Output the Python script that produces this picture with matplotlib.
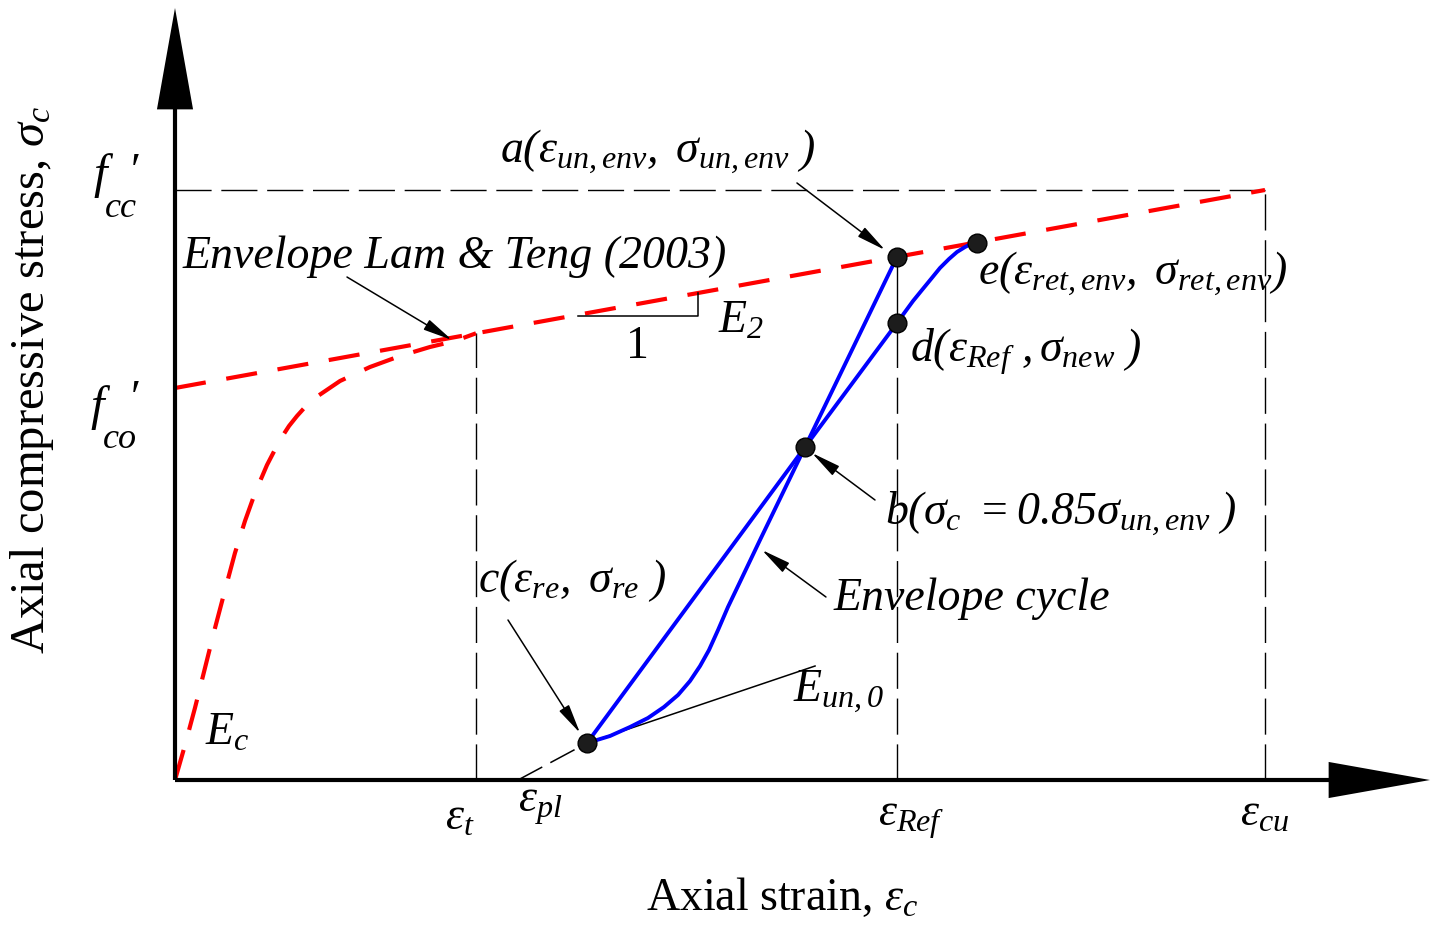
import numpy as np
import matplotlib
matplotlib.use("Agg")
import matplotlib.pyplot as plt

plt.rcParams['font.family'] = ['Liberation Serif', 'DejaVu Serif']
plt.rcParams['mathtext.fontset'] = 'custom'
plt.rcParams['mathtext.rm'] = 'Liberation Serif:italic'
plt.rcParams['mathtext.it'] = 'Liberation Serif:italic'
plt.rcParams['mathtext.bf'] = 'Liberation Serif:bold'

# key strains / stresses (normalised: eps_cu = 1, f'cc = 1)
eps_t = 0.2761
eps_pl = 0.3147
eps_ref = 0.6624
eps_cu = 1.0
f_co = 0.6644
f_cc = 1.0

# Lam & Teng envelope, first (curved) branch
env_eps = [0, 0.0092, 0.0183, 0.0275, 0.0367, 0.0459, 0.0550, 0.0642, 0.0734,
           0.0844, 0.0963, 0.1046, 0.1119, 0.1202, 0.1284, 0.1514, 0.1789,
           0.2064, 0.2339, 0.2569, 0.2761]
env_sig = [0, 0.0593, 0.1220, 0.1898, 0.2576, 0.3220, 0.3847, 0.4390, 0.4864,
           0.5339, 0.5763, 0.6000, 0.6169, 0.6339, 0.6475, 0.6763, 0.7000,
           0.7186, 0.7339, 0.7441, 0.7571]
# second (linear) branch
lin_eps = [0.0, 1.0]
lin_sig = [f_co, f_cc]

# characteristic points
pt_a = (0.6624, 0.8867)
pt_b = (0.5780, 0.5644)
pt_c = (0.3780, 0.0627)
pt_d = (0.6624, 0.7746)
pt_e = (0.7358, 0.9110)

# unloading path a -> b -> c
unl_eps = [0.6624, 0.5780, 0.5367, 0.5183, 0.5073, 0.4982, 0.4899, 0.4817,
           0.4725, 0.4615, 0.4486, 0.4339, 0.4174, 0.3991, 0.3780]
unl_sig = [0.8867, 0.5644, 0.4068, 0.3356, 0.2932, 0.2542, 0.2203, 0.1932,
           0.1678, 0.1441, 0.1237, 0.1051, 0.0898, 0.0746, 0.0627]
# reloading path c -> b -> d -> e
rel_eps = [0.3780, 0.5780, 0.6624, 0.6697, 0.6771, 0.6853, 0.6936, 0.7018,
           0.7101, 0.7174, 0.7248, 0.7303, 0.7358]
rel_sig = [0.0627, 0.5644, 0.7746, 0.7932, 0.8119, 0.8305, 0.8492, 0.8678,
           0.8831, 0.8949, 0.9034, 0.9085, 0.9110]

# unloading modulus tangent at c
tan_solid_eps = [0.3780, 0.5872]
tan_solid_sig = [0.0627, 0.1932]
tan_dash_eps = [0.3147, 0.3780]
tan_dash_sig = [0.0, 0.0627]

# slope triangle for E2
tri_eps = [0.3697, 0.4798, 0.4798]
tri_sig = [0.7864, 0.7864, 0.8254]

FS = 33
RED = '#ff0000'
BLUE = '#0000ff'

fig = plt.figure(figsize=(14.43, 9.31), dpi=100)
ax = fig.add_axes([0, 0, 1, 1])
ax.set_xlim(-0.16055, 1.16330)
ax.set_ylim(-0.25593, 1.32203)
ax.axis('off')

# axes with arrow heads
ax.plot([0, 1.08], [0, 0], color='black', lw=3, solid_capstyle='butt', zorder=3)
ax.plot([0, 0], [0, 1.15], color='black', lw=3, solid_capstyle='butt', zorder=3)
head = dict(arrowstyle='-|>,head_length=73,head_width=13', mutation_scale=1,
            lw=0, fc='black', ec='none', shrinkA=0, shrinkB=0)
ax.annotate('', xy=(1.1514, 0), xytext=(0.9, 0), arrowprops=head)
ax.annotate('', xy=(0, 1.3085), xytext=(0, 1.0), arrowprops=head)

# black dashed guide lines
kd = dict(color='black', lw=1.0, dashes=(26, 7))
ax.plot([0, eps_cu], [f_cc, f_cc], **kd)
ax.plot([eps_cu, eps_cu], [0, f_cc], **kd)
ax.plot([eps_t, eps_t], [0, env_sig[-1]], **kd)
ax.plot([eps_ref, eps_ref], [0, pt_d[1]], **kd)
ax.plot([eps_ref, eps_ref], [pt_d[1], pt_a[1]], color='black', lw=1.0)

# red envelope
rd = dict(color=RED, lw=3, dashes=(7.5, 5.0))
ax.plot(env_eps, env_sig, **rd)
ax.plot(lin_eps, lin_sig, **rd)

# blue cycle
ax.plot(unl_eps, unl_sig, color=BLUE, lw=2.8, zorder=4, solid_joinstyle='round')
ax.plot(rel_eps, rel_sig, color=BLUE, lw=2.8, zorder=4, solid_joinstyle='round')

# tangent
ax.plot(tan_solid_eps, tan_solid_sig, color='black', lw=1.1)
ax.plot(tan_dash_eps, tan_dash_sig, color='black', lw=1.1, dashes=(18, 6))

# slope triangle
ax.plot(tri_eps, tri_sig, color='black', lw=1.1)

# markers
for p in (pt_a, pt_b, pt_c, pt_d, pt_e):
    ax.plot(p[0], p[1], 'o', ms=13.5, color='#1c1c1c', mec='black', mew=1, zorder=6)

# annotation arrows
arw = dict(arrowstyle='-|>,head_length=1.8,head_width=0.35', mutation_scale=10,
           lw=1.1, color='black', shrinkA=0, shrinkB=0)
ax.annotate('', xy=(0.6514, 0.8983), xytext=(0.5706, 1.0119), arrowprops=arw)
ax.annotate('', xy=(0.2541, 0.7458), xytext=(0.1578, 0.8525), arrowprops=arw)
ax.annotate('', xy=(0.5844, 0.5542), xytext=(0.6422, 0.4746), arrowprops=arw)
ax.annotate('', xy=(0.5385, 0.3898), xytext=(0.5972, 0.3102), arrowprops=arw)
ax.annotate('', xy=(0.3716, 0.0797), xytext=(0.3055, 0.2712), arrowprops=arw)

# texts
it = dict(fontsize=FS, va='baseline', ha='left')
ax.text(0.0073, 0.8678, 'Envelope Lam & Teng (2003)', style='italic', **it)
ax.text(0.6037, 0.2881, 'Envelope cycle', style='italic', **it)
ax.text(0.2982, 1.0458, r'$a(\varepsilon_{un,env},\ \sigma_{un,env}\ )$', **it)
ax.text(0.7367, 0.8390, r'$e(\varepsilon_{ret,env},\ \sigma_{ret,env})$', **it)
ax.text(0.6743, 0.7085, r'$d(\varepsilon_{Ref}\ ,\sigma_{new}\ )$', **it)
ax.text(0.6514, 0.4322, r'$b(\sigma_c\ =0.85\sigma_{un,env}\ )$', **it)
ax.text(0.2780, 0.3186, r'$c(\varepsilon_{re},\ \sigma_{re}\ )$', **it)
ax.text(0.5670, 0.1322, r'$E_{un,0}$', **it)
ax.text(0.0275, 0.0593, r'$E_c$', **it)
ax.text(0.4982, 0.7576, r'$E_2$', **it)
ax.text(0.4239, 0.7153, '1', fontsize=FS, va='baseline', ha='center')

# stress marks: f, subscript and prime placed separately
sub = dict(fontsize=FS - 7, va='baseline', ha='left', style='italic')
ax.text(-0.0752, 1.0034, 'f', style='italic', fontsize=FS + 2, va='baseline')
ax.text(-0.0642, 0.9542, 'cc', **sub)
ax.text(-0.0404, 1.0644, '\u2032', fontsize=FS, va='top', ha='left')
ax.text(-0.0780, 0.6102, 'f', style='italic', fontsize=FS + 2, va='baseline')
ax.text(-0.0661, 0.5627, 'co', **sub)
ax.text(-0.0404, 0.6780, '\u2032', fontsize=FS, va='top', ha='left')

# strain marks
ax.text(0.2477, -0.0847, r'$\varepsilon_t$', **it)
ax.text(0.3147, -0.0542, r'$\varepsilon_{pl}$', **it)
ax.text(0.6450, -0.0780, r'$\varepsilon_{Ref}$', **it)
ax.text(0.9771, -0.0780, r'$\varepsilon_{cu}$', **it)

# axis titles
ax.text(0.5569, -0.2203, r'Axial strain, $\varepsilon_c$', fontsize=FS,
        ha='center', va='baseline')
ax.text(-0.1312, 0.678, r'Axial compressive stress, $\sigma_c$', fontsize=FS + 2,
        ha='center', va='center', rotation=90)

fig.savefig('out.png', dpi=100)
